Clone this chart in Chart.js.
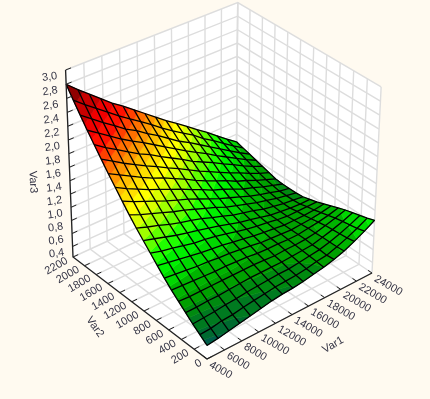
<!DOCTYPE html>
<html>
<head>
<meta charset="utf-8">
<title>Var3 surface</title>
<script src="https://cdn.jsdelivr.net/npm/chart.js@4"></script>
<style>
  html, body { margin: 0; padding: 0; background: #fffaf0; }
  canvas { display: block; }
</style>
</head>
<body>
<canvas id="chart" width="430" height="399"></canvas>
<script>
const var1Ticks = [4000, 6000, 8000, 10000, 12000, 14000, 16000, 18000, 20000, 22000, 24000];
const var2Ticks = [0, 200, 400, 600, 800, 1000, 1200, 1400, 1600, 1800, 2000, 2200];
const var3Ticks = [0.4, 0.6, 0.8, 1.0, 1.2, 1.4, 1.6, 1.8, 2.0, 2.2, 2.4, 2.6, 2.8, 3.0];
const var3Bottom = 0.236;

const var1Mesh = [4000, 5250, 6500, 7750, 9000, 10250, 11500, 12750, 14000, 15250, 16500, 17750, 19000, 20250, 21500, 22750, 24000];
const var2Mesh = [0, 110, 220, 330, 440, 550, 660, 770, 880, 990, 1100, 1210, 1320, 1430, 1540, 1650, 1760, 1870, 1980, 2090, 2200];
// one row per var2Mesh value, one column per var1Mesh value
const var3Grid = [
  [.44, .46, .49, .52, .55, .58, .61, .63, .64, .66, .69, .72, .76, .81, .88, .96, 1.05],
  [.52, .53, .56, .57, .60, .62, .64, .66, .67, .68, .70, .73, .75, .80, .86, .93, 1.01],
  [.60, .61, .62, .64, .65, .67, .68, .69, .70, .70, .72, .74, .76, .80, .85, .91, .98],
  [.69, .69, .70, .70, .71, .72, .73, .73, .73, .73, .74, .75, .76, .80, .84, .89, .95],
  [.78, .77, .77, .77, .77, .77, .77, .77, .76, .75, .76, .76, .77, .79, .83, .87, .92],
  [.87, .86, .85, .84, .83, .83, .82, .81, .79, .78, .78, .77, .77, .79, .81, .84, .88],
  [.97, .95, .93, .91, .90, .88, .87, .85, .83, .80, .79, .78, .77, .78, .79, .81, .84],
  [1.08, 1.05, 1.02, .99, .96, .94, .92, .89, .86, .83, .81, .79, .77, .77, .77, .78, .80],
  [1.19, 1.14, 1.11, 1.07, 1.03, 1.01, .98, .94, .90, .86, .83, .81, .78, .76, .76, .76, .76],
  [1.30, 1.25, 1.20, 1.15, 1.11, 1.07, 1.03, .99, .94, .89, .86, .82, .78, .76, .74, .73, .73],
  [1.41, 1.35, 1.30, 1.24, 1.19, 1.15, 1.10, 1.04, .99, .93, .89, .85, .80, .77, .74, .72, .70],
  [1.53, 1.46, 1.40, 1.34, 1.28, 1.23, 1.17, 1.11, 1.05, .98, .93, .88, .83, .79, .75, .72, .69],
  [1.66, 1.58, 1.51, 1.44, 1.37, 1.31, 1.25, 1.18, 1.11, 1.04, .98, .92, .86, .81, .77, .72, .69],
  [1.79, 1.70, 1.62, 1.54, 1.47, 1.40, 1.33, 1.25, 1.18, 1.10, 1.04, .97, .90, .85, .79, .74, .69],
  [1.92, 1.83, 1.74, 1.65, 1.57, 1.50, 1.42, 1.34, 1.25, 1.17, 1.10, 1.03, .95, .89, .82, .76, .70],
  [2.06, 1.96, 1.86, 1.77, 1.68, 1.60, 1.51, 1.43, 1.34, 1.25, 1.17, 1.09, 1.01, .94, .86, .79, .73],
  [2.20, 2.09, 1.99, 1.89, 1.79, 1.71, 1.61, 1.52, 1.43, 1.33, 1.25, 1.17, 1.08, 1.00, .91, .83, .76],
  [2.34, 2.23, 2.12, 2.01, 1.91, 1.82, 1.72, 1.62, 1.52, 1.42, 1.33, 1.24, 1.14, 1.05, .96, .87, .79],
  [2.49, 2.37, 2.25, 2.14, 2.02, 1.93, 1.82, 1.72, 1.61, 1.50, 1.41, 1.31, 1.21, 1.11, 1.01, .91, .82],
  [2.64, 2.51, 2.39, 2.27, 2.15, 2.04, 1.93, 1.82, 1.70, 1.59, 1.49, 1.39, 1.27, 1.17, 1.06, .95, .85],
  [2.80, 2.66, 2.53, 2.40, 2.27, 2.16, 2.04, 1.92, 1.80, 1.68, 1.57, 1.46, 1.34, 1.23, 1.11, .99, .88]
];

const bandTops = [.48, .55, .65, .72, .8, .9, 1.0, 1.1, 1.2, 1.3, 1.4, 1.5, 1.6, 1.7, 1.8, 1.9, 2.0, 2.1, 2.25, 2.4, 2.6, 3.0];
const bandColors = ['#005f4a', '#006a30', '#007a20', '#008a10', '#00a000', '#00b400', '#00d800', '#00f000', '#20ff00',
  '#60ff00', '#a0ff00', '#d8ff00', '#ffff00', '#ffe000', '#ffc000', '#ff9800', '#ff7000', '#ff4000', '#ff1000', '#f00000', '#c80000', '#900000'];

// camera: where the box corners land, with perspective weights
const cam = { ox: 207, oy: 359, ux: 372, uy: 273, vx: 73, vy: 257, wx: 207, wy: 165, a: 1.066, b: 1.066, c: 0.944 };

function project(var1, var2, var3) {
  const u = (var1 - var1Ticks[0]) / (var1Ticks[var1Ticks.length - 1] - var1Ticks[0]);
  const v = (var2 - var2Ticks[0]) / (var2Ticks[var2Ticks.length - 1] - var2Ticks[0]);
  const w = (var3 - var3Bottom) / (var3Ticks[var3Ticks.length - 1] - var3Bottom);
  const den = 1 + u * (cam.a - 1) + v * (cam.b - 1) + w * (cam.c - 1);
  return {
    x: (cam.ox + u * (cam.a * cam.ux - cam.ox) + v * (cam.b * cam.vx - cam.ox) + w * (cam.c * cam.wx - cam.ox)) / den,
    y: (cam.oy + u * (cam.a * cam.uy - cam.oy) + v * (cam.b * cam.vy - cam.oy) + w * (cam.c * cam.wy - cam.oy)) / den
  };
}

const datasets = [];
function addLine(points, color, width) {
  datasets.push({ data: points, showLine: true, fill: false, borderColor: color, borderWidth: width, pointRadius: 0, tension: 0 });
}
function addShape(points, color) {
  const closed = points.concat([points[0]]);
  datasets.push({ data: closed, showLine: true, fill: 'shape', backgroundColor: color, borderColor: color, borderWidth: 0.6, pointRadius: 0, tension: 0 });
}

const v1Min = var1Ticks[0], v1Max = var1Ticks[var1Ticks.length - 1];
const v2Min = var2Ticks[0], v2Max = var2Ticks[var2Ticks.length - 1];
const v3Max = var3Ticks[var3Ticks.length - 1];

// walls and floor
addShape([project(v1Min, v2Max, var3Bottom), project(v1Max, v2Max, var3Bottom), project(v1Max, v2Max, v3Max), project(v1Min, v2Max, v3Max)], '#ffffff');
addShape([project(v1Max, v2Min, var3Bottom), project(v1Max, v2Max, var3Bottom), project(v1Max, v2Max, v3Max), project(v1Max, v2Min, v3Max)], '#ffffff');
addShape([project(v1Min, v2Min, var3Bottom), project(v1Max, v2Min, var3Bottom), project(v1Max, v2Max, var3Bottom), project(v1Min, v2Max, var3Bottom)], '#ffffff');

const gridColor = '#dddddd';
var1Ticks.forEach(t => {
  addLine([project(t, v2Min, var3Bottom), project(t, v2Max, var3Bottom), project(t, v2Max, v3Max)], gridColor, 1.4);
});
var2Ticks.forEach(t => {
  addLine([project(v1Min, t, var3Bottom), project(v1Max, t, var3Bottom), project(v1Max, t, v3Max)], gridColor, 1.4);
});
var3Ticks.forEach(t => {
  addLine([project(v1Min, v2Max, t), project(v1Max, v2Max, t), project(v1Max, v2Min, t)], gridColor, 1.4);
});
addLine([project(v1Max, v2Max, var3Bottom), project(v1Max, v2Max, v3Max)], gridColor, 1.4);

// surface, far cells first
function clip(poly, level, keepAbove) {
  const out = [];
  poly.forEach((p, i) => {
    const q = poly[(i + 1) % poly.length];
    const pIn = keepAbove ? p[2] >= level : p[2] <= level;
    const qIn = keepAbove ? q[2] >= level : q[2] <= level;
    if (pIn) out.push(p);
    if (pIn !== qIn) {
      const t = (level - p[2]) / (q[2] - p[2]);
      out.push([p[0] + t * (q[0] - p[0]), p[1] + t * (q[1] - p[1]), level]);
    }
  });
  return out;
}

for (let j = var2Mesh.length - 2; j >= 0; j--) {
  for (let i = var1Mesh.length - 2; i >= 0; i--) {
    const cell = [
      [var1Mesh[i], var2Mesh[j], var3Grid[j][i]],
      [var1Mesh[i + 1], var2Mesh[j], var3Grid[j][i + 1]],
      [var1Mesh[i + 1], var2Mesh[j + 1], var3Grid[j + 1][i + 1]],
      [var1Mesh[i], var2Mesh[j + 1], var3Grid[j + 1][i]]
    ];
    bandTops.forEach((top, k) => {
      const bottom = k === 0 ? 0 : bandTops[k - 1];
      let poly = clip(cell, bottom, true);
      if (poly.length) poly = clip(poly, top, false);
      if (poly.length > 2) addShape(poly.map(p => project(p[0], p[1], p[2])), bandColors[k]);
    });
  }
}

// mesh lines
var2Mesh.forEach((b, j) => {
  addLine(var1Mesh.map((a, i) => project(a, b, var3Grid[j][i])), '#000000', 1.3);
});
var1Mesh.forEach((a, i) => {
  addLine(var2Mesh.map((b, j) => project(a, b, var3Grid[j][i])), '#000000', 1.3);
});

// axes with ticks
const axisColor = '#222222';
addLine([project(v1Min, v2Max, v3Max), project(v1Min, v2Max, var3Bottom), project(v1Min, v2Min, var3Bottom), project(v1Max, v2Min, var3Bottom)], axisColor, 1.3);
var1Ticks.forEach(t => addLine([project(t, v2Min, var3Bottom), project(t, v2Min + 60, var3Bottom)], axisColor, 1));
var2Ticks.forEach(t => addLine([project(v1Min, t, var3Bottom), project(v1Min + 600, t, var3Bottom)], axisColor, 1));
var3Ticks.forEach(t => addLine([project(v1Min, v2Max, t), project(v1Min + 600, v2Max, t)], axisColor, 1));

datasets.reverse();

const labelColor = '#333344';
const labelsPlugin = {
  id: 'boxLabels',
  afterDraw(chart) {
    const c = chart.ctx;
    const sx = chart.scales.x, sy = chart.scales.y;
    function put(text, p, dx, dy, angle, align) {
      c.save();
      c.translate(sx.getPixelForValue(p.x) + dx, sy.getPixelForValue(p.y) + dy);
      c.rotate(angle * Math.PI / 180);
      c.font = '11px "Liberation Sans", Arial, sans-serif';
      c.fillStyle = labelColor;
      c.textAlign = align;
      c.textBaseline = 'middle';
      c.fillText(text, 0, 0);
      c.restore();
    }
    var3Ticks.forEach(t => {
      put(t.toFixed(1).replace('.', ','), project(v1Min, v2Max, t), -16, 7, -8, 'center');
    });
    var2Ticks.forEach(t => {
      put(String(t), project(v1Min, t, var3Bottom), -6, 3, -30, 'right');
    });
    var1Ticks.forEach(t => {
      put(String(t), project(t, v2Min, var3Bottom), 3, 5, 30, 'left');
    });
    put('Var1', project(v1Min, v2Min, var3Bottom), 126, -14, -30, 'center');
    put('Var2', project(v1Min, v2Min, var3Bottom), -112, -32, 55, 'center');
    put('Var3', project(v1Min, v2Max, var3Bottom), -40, -75, 88, 'center');
  }
};

new Chart(document.getElementById('chart').getContext('2d'), {
  type: 'scatter',
  data: { datasets: datasets },
  plugins: [labelsPlugin],
  options: {
    responsive: false,
    animation: false,
    events: [],
    layout: { padding: 0 },
    plugins: { legend: { display: false }, tooltip: { enabled: false } },
    scales: {
      x: { type: 'linear', min: 0, max: 430, display: false },
      y: { type: 'linear', min: 0, max: 399, reverse: true, display: false }
    }
  }
});
</script>
</body>
</html>
